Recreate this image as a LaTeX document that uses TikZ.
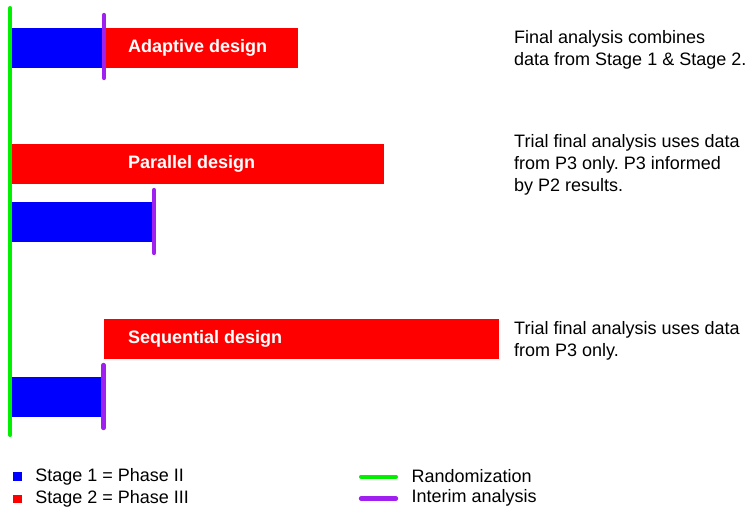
\documentclass[tikz,border=0pt]{standalone}
\usepackage{fontspec}
\setmainfont{Liberation Sans}
\usetikzlibrary{positioning}
\definecolor{stageone}{RGB}{0,0,255}
\definecolor{stagetwo}{RGB}{255,0,0}
\definecolor{randline}{RGB}{0,240,0}
\definecolor{interim}{RGB}{160,32,240}
\frenchspacing

\begin{document}
\begin{tikzpicture}[x=1pt,y=-1pt,
  bar/.style={inner sep=0pt,minimum height=39.5pt,anchor=north west},
  barlabel/.style={anchor=west,inner sep=0pt,text=white,font=\fontsize{18}{22}\selectfont\bfseries},
  note/.style={anchor=west,inner sep=0pt,align=left,font=\fontsize{18}{22}\selectfont},
  key/.style={inner sep=0pt,minimum size=8.5pt},
  keytext/.style={anchor=west,inner sep=0pt,font=\fontsize{18}{22}\selectfont},
  interimline/.style={interim,line width=4.3pt,line cap=round},
  randomline/.style={randline,line width=4pt,line cap=round}]
\useasboundingbox (0,0) rectangle (750,507);
% adaptive
\node[bar,fill=stageone,minimum width=94pt] (ad1) at (10,28) {};
\node[bar,fill=stagetwo,minimum width=194pt] (ad2) at (104,28) {};
\node[barlabel] (adlab) at (128,47.5) {Adaptive design};
\draw[interimline] (104,15) -- (104,78);
\node[note] (adnote) at (514,50) {Final analysis combines\\data from Stage 1 \& Stage 2.};
% parallel
\node[bar,fill=stagetwo,minimum width=374pt] (pa2) at (10,144) {};
\node[bar,fill=stageone,minimum width=144pt] (pa1) at (10,202) {};
\node[barlabel] (palab) at (128,163.5) {Parallel design};
\draw[interimline] (154,190) -- (154,253);
\node[note] (panote) at (514,165) {Trial final analysis uses data\\from P3 only. P3 informed\\by P2 results.};
% sequential
\node[bar,fill=stagetwo,minimum width=395pt] (se2) at (104,319) {};
\node[bar,fill=stageone,minimum width=93pt] (se1) at (10,377) {};
\node[barlabel] (selab) at (128,338.5) {Sequential design};
\draw[interimline] (103.5,365) -- (103.5,428);
\node[note] (senote) at (514,341) {Trial final analysis uses data\\from P3 only.};
% randomization
\draw[randomline] (10,8) -- (10,435);
% legend
\node[key,fill=stageone] (k1) at (17.7,476.5) {};
\node[keytext,right=13pt of k1] (k1t) {Stage 1 = Phase II};
\node[key,fill=stagetwo] (k2) at (17.7,499) {};
\node[keytext,right=13pt of k2,yshift=0.5pt] (k2t) {Stage 2 = Phase III};
\coordinate (r1) at (361,476.5);
\coordinate (r2) at (396,476.5);
\draw[randomline] (r1) -- (r2);
\node[keytext,right=15.5pt of r2] (r2t) {Randomization};
\coordinate (i1) at (361,498.5);
\coordinate (i2) at (396,498.5);
\draw[interimline] (i1) -- (i2);
\node[keytext,right=15.5pt of i2,yshift=0.5pt] (i2t) {Interim analysis};
\end{tikzpicture}
\end{document}
